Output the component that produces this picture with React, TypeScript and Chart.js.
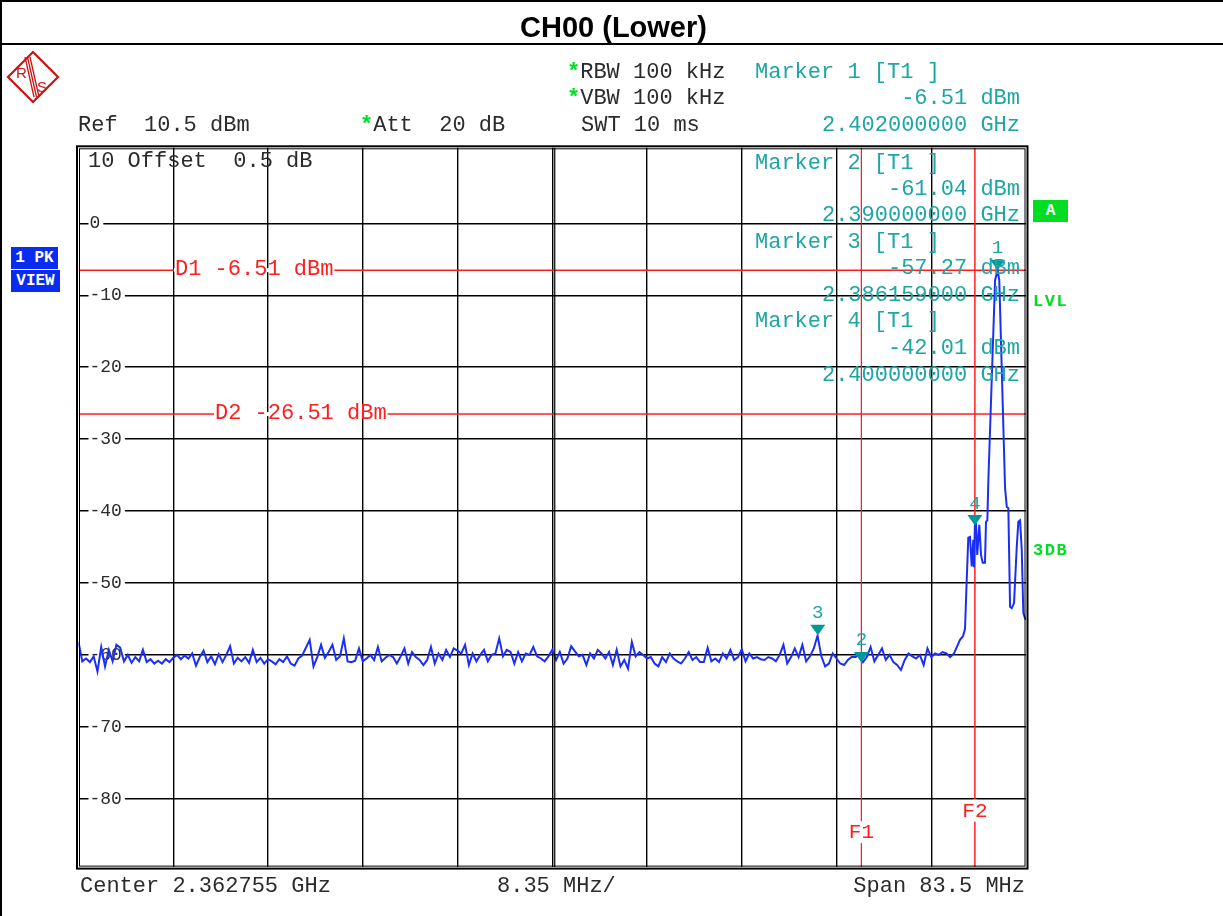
import React, { useEffect, useRef } from "react";
import { Chart, registerables } from "chart.js";

Chart.register(...registerables);

// ---------------- data ----------------
const START_MHZ = 2321.005;
const STOP_MHZ = 2404.505;
const CENTER_MHZ = 2362.755;
const NOISE_STEP_MHZ = 0.334;
const REF_LEVEL_DBM = 10.5;
const BOTTOM_LEVEL_DBM = -89.5;

// trace 1 (peak), noise floor part, one value every NOISE_STEP_MHZ from START_MHZ
const noiseLevels = [
  -58.2, -60.9, -60.5, -61.0, -60.2, -62.3, -58.9, -61.6, -59.3, -60.9,
  -58.6, -59.0, -60.9, -60.0, -61.1, -60.3, -60.9, -59.3, -61.0, -60.6,
  -61.2, -60.8, -61.2, -60.6, -61.0, -60.4, -60.0, -60.6, -60.1, -60.5,
  -59.8, -61.5, -60.3, -59.4, -61.0, -60.2, -61.3, -59.9, -61.0, -60.0,
  -58.8, -61.2, -60.4, -60.9, -60.3, -61.1, -59.3, -61.0, -60.4, -61.2,
  -60.6, -60.9, -61.3, -60.6, -61.0, -60.2, -61.2, -61.5, -60.5, -60.1,
  -59.0, -57.9, -61.6, -60.3, -58.6, -60.4, -59.6, -58.6, -60.7, -60.2,
  -57.7, -60.9, -61.0, -60.8, -59.1, -60.9, -60.5, -60.0, -60.7, -58.9,
  -60.9, -60.4, -60.0, -60.3, -61.2, -60.2, -59.1, -61.2, -59.6, -60.3,
  -60.7, -61.4, -60.7, -58.9, -61.2, -59.8, -60.7, -59.3, -60.3, -59.1,
  -59.4, -59.8, -58.6, -61.4, -59.8, -60.9, -60.0, -59.3, -60.9, -60.0,
  -59.8, -57.7, -60.2, -59.3, -59.6, -61.2, -59.6, -60.9, -59.8, -60.0,
  -58.9, -60.2, -60.5, -60.9, -60.2, -59.3, -60.7, -59.6, -61.2, -60.5,
  -58.8, -59.5, -60.2, -60.0, -61.4, -59.8, -60.5, -59.3, -59.8, -60.5,
  -59.6, -61.4, -59.3, -61.6, -60.7, -61.9, -58.2, -60.2, -59.6, -60.0,
  -60.5, -60.3, -61.2, -61.6, -60.3, -61.0, -59.8, -60.5, -60.9, -61.2,
  -60.5, -59.6, -60.7, -60.3, -61.0, -61.0, -59.0, -60.9, -60.5, -61.0,
  -59.8, -60.5, -59.3, -60.7, -60.3, -59.2, -60.9, -59.8, -60.5, -60.3,
  -60.6, -60.7, -60.3, -60.5, -60.9, -60.0, -58.6, -61.2, -60.3, -59.1,
  -60.3, -58.6, -60.9, -60.2, -59.1, -57.3, -60.2, -61.6, -61.2, -59.8,
  -60.5, -61.2, -61.4, -60.7, -60.3, -60.3, -60.0, -61.0, -60.3, -58.9,
  -60.9, -60.0, -59.1, -60.7, -60.0, -61.0, -61.4, -62.1, -60.7, -59.8,
  -60.2, -60.5, -60.0, -61.4, -59.1, -60.3, -59.8, -60.0, -59.6, -59.8,
  -60.3, -59.8, -58.6,
];

// trace 1, carrier part (MHz / dBm)
const carrierFreqsMHz = [
  2398.69, 2398.95, 2399.13, 2399.28, 2399.42, 2399.57, 2399.72, 2399.86, 2399.92, 2400.0,
  2400.1, 2400.21, 2400.39, 2400.54, 2400.69, 2400.89, 2400.98, 2401.1, 2401.18, 2401.78,
  2402.0, 2402.15, 2402.66, 2402.81, 2402.95, 2403.1, 2403.25, 2403.45, 2403.69, 2403.83,
  2403.98, 2404.13, 2404.27, 2404.42, 2404.505,
];
const carrierLevels = [
  -57.9, -57.4, -56.4, -49.6, -43.7, -43.6, -47.7, -44.0, -47.8, -42.0,
  -41.6, -46.1, -41.9, -46.1, -47.2, -47.2, -41.5, -41.3, -36.1, -7.9,
  -6.51, -7.9, -36.8, -39.4, -39.6, -53.3, -53.5, -52.8, -45.0, -41.5,
  -41.3, -45.4, -54.2, -54.9, -55.1,
];

const xGridMHz = [2329.355, 2337.705, 2346.055, 2354.405, 2362.755, 2371.105, 2379.455, 2387.805, 2396.155];
const yTickLevels = [0, -10, -20, -30, -40, -50, -60, -70, -80];

const displayLineNames = ["D1 -6.51 dBm", "D2 -26.51 dBm"];
const displayLineLevels = [-6.51, -26.51];

const freqLineNames = ["F1", "F2"];
const freqLineMHz = [2390.0, 2400.0];

const markerNames = ["1", "2", "3", "4"];
const markerFreqsMHz = [2402.0, 2390.0, 2386.159, 2400.0];
const markerLevels = [-6.51, -61.04, -57.27, -42.01];

const markerReadouts = [
  ["Marker 2 [T1 ]", "-61.04 dBm", "2.390000000 GHz"],
  ["Marker 3 [T1 ]", "-57.27 dBm", "2.386159000 GHz"],
  ["Marker 4 [T1 ]", "-42.01 dBm", "2.400000000 GHz"],
];

// ---------------- styles ----------------
const MONO = '"Liberation Mono", "DejaVu Sans Mono", monospace';
const SANS = '"Liberation Sans", Arial, sans-serif';
const TEXT = "#2b2b2b";
const TEAL = "#1ea5a5";
const MARK = "#009999";
const RED = "#ff1e1e";
const GREEN = "#00dd22";
const BLUE = "#0a2cf0";
const TRACE = "#1b2ef6";
const LOGO = "#c81414";

const D_LABEL_OFFSET = [96.5, 136.5];
const F_LABEL_RISE = [35, 56.5];

const overlayPlugin = {
  id: "rsOverlay",
  afterDatasetsDraw(chart: any) {
    const { ctx, chartArea: a, scales } = chart;
    const x = scales.x;
    const y = scales.y;
    ctx.save();
    // double frame
    ctx.strokeStyle = "#000";
    ctx.lineWidth = 2;
    ctx.strokeRect(a.left - 1.5, a.top - 1.5, a.right - a.left + 3, a.bottom - a.top + 3);
    ctx.lineWidth = 1;
    ctx.strokeRect(a.left + 1, a.top + 1, a.right - a.left - 2, a.bottom - a.top - 2);
    // double centre line
    const cx = x.getPixelForValue(CENTER_MHZ);
    ctx.lineWidth = 1.2;
    ctx.beginPath();
    ctx.moveTo(cx + 2.5, a.top);
    ctx.lineTo(cx + 2.5, a.bottom);
    ctx.stroke();

    // display line labels
    ctx.font = `22px ${MONO}`;
    ctx.textBaseline = "alphabetic";
    ctx.textAlign = "left";
    displayLineLevels.forEach((lv, i) => {
      const py = y.getPixelForValue(lv);
      const tx = a.left + D_LABEL_OFFSET[i];
      const w = ctx.measureText(displayLineNames[i]).width;
      ctx.fillStyle = "#fff";
      ctx.fillRect(tx - 1, py - 2, w + 2, 4);
      ctx.fillStyle = RED;
      ctx.fillText(displayLineNames[i], tx, py + 5);
    });

    // frequency line labels
    ctx.font = `21px ${MONO}`;
    ctx.textAlign = "center";
    freqLineMHz.forEach((f, i) => {
      const px = x.getPixelForValue(f);
      const cy = a.bottom - F_LABEL_RISE[i];
      ctx.fillStyle = "#fff";
      ctx.fillRect(px - 2, cy - 11, 4, 22);
      ctx.fillStyle = RED;
      ctx.fillText(freqLineNames[i], px, cy + 6);
    });

    // markers
    ctx.font = `19px ${MONO}`;
    markerFreqsMHz.forEach((f, i) => {
      const px = x.getPixelForValue(f);
      const py = y.getPixelForValue(markerLevels[i]);
      ctx.fillStyle = MARK;
      ctx.beginPath();
      ctx.moveTo(px - 7.5, py - 10.5);
      ctx.lineTo(px + 7.5, py - 10.5);
      ctx.lineTo(px, py);
      ctx.closePath();
      ctx.fill();
      ctx.fillStyle = TEAL;
      ctx.fillText(markerNames[i], px, py - 17);
    });
    ctx.restore();
  },
};

type TxtProps = {
  x?: number;
  right?: number;
  y: number;
  size?: number;
  color?: string;
  bold?: boolean;
  spacing?: number;
  family?: string;
  children: React.ReactNode;
};

function Txt({ x, right, y, size = 22, color = TEXT, bold = false, spacing = 0, family = MONO, children }: TxtProps) {
  return (
    <div
      style={{
        position: "absolute",
        left: x,
        right,
        top: y - size * 0.48,
        fontFamily: family,
        fontSize: size,
        fontWeight: bold ? 700 : 400,
        letterSpacing: spacing,
        lineHeight: `${size}px`,
        whiteSpace: "pre",
        color,
      }}
    >
      {children}
    </div>
  );
}

const Star = () => <span style={{ color: GREEN, fontWeight: 700 }}>*</span>;

export default function App() {
  const canvasRef = useRef<HTMLCanvasElement | null>(null);

  useEffect(() => {
    const canvas = canvasRef.current;
    if (!canvas) return;
    const tracePoints = [
      ...noiseLevels.map((v, i) => ({ x: START_MHZ + i * NOISE_STEP_MHZ, y: v })),
      ...carrierFreqsMHz.map((f, i) => ({ x: f, y: carrierLevels[i] })),
    ];
    const dLines = displayLineLevels.map((lv) => ({
      data: [
        { x: START_MHZ, y: lv },
        { x: STOP_MHZ, y: lv },
      ],
      borderColor: RED,
      borderWidth: 1.5,
      pointRadius: 0,
    }));
    const fLines = freqLineMHz.map((f, i) => ({
      data: [
        { x: f, y: REF_LEVEL_DBM },
        { x: f, y: BOTTOM_LEVEL_DBM },
      ],
      borderColor: RED,
      borderWidth: i === 0 ? 1 : 1.5,
      pointRadius: 0,
    }));

    const chart = new Chart(canvas, {
      type: "line",
      data: {
        datasets: [
          { data: tracePoints, borderColor: TRACE, borderWidth: 2, pointRadius: 0, tension: 0 },
          ...dLines,
          ...fLines,
        ] as any,
      },
      options: {
        animation: false,
        responsive: false,
        maintainAspectRatio: false,
        devicePixelRatio: 1,
        layout: { padding: { left: 78.5, top: 147.8, right: 197, bottom: 48.9 } },
        plugins: { legend: { display: false }, tooltip: { enabled: false } },
        events: [],
        scales: {
          x: {
            type: "linear",
            min: START_MHZ,
            max: STOP_MHZ,
            afterBuildTicks: (s: any) => {
              s.ticks = xGridMHz.map((v) => ({ value: v }));
            },
            ticks: { display: false },
            grid: { color: "#000", lineWidth: 1.4, drawTicks: false, tickLength: 0 },
            border: { display: false },
          },
          y: {
            type: "linear",
            min: BOTTOM_LEVEL_DBM,
            max: REF_LEVEL_DBM,
            afterBuildTicks: (s: any) => {
              s.ticks = yTickLevels.map((v) => ({ value: v }));
            },
            afterFit: (s: any) => {
              s.width = 0;
            },
            ticks: {
              mirror: true,
              padding: 11,
              color: TEXT,
              font: { family: "Liberation Mono", size: 18 },
              showLabelBackdrop: true,
              backdropColor: "#fff",
              backdropPadding: { top: 1, bottom: 1, left: 1, right: 3 },
            } as any,
            grid: { color: "#000", lineWidth: 1.4, drawTicks: false, tickLength: 0 },
            border: { display: false },
          },
        },
      } as any,
      plugins: [overlayPlugin],
    });
    return () => chart.destroy();
  }, []);

  return (
    <div
      style={{
        position: "fixed",
        left: 0,
        top: 0,
        width: 1223,
        height: 916,
        background: "#fff",
        overflow: "hidden",
      }}
    >
      <canvas
        ref={canvasRef}
        width={1223}
        height={916}
        style={{ position: "absolute", left: 0, top: 0, width: 1223, height: 916 }}
      />
      {/* page frame */}
      <div style={{ position: "absolute", left: 0, top: 0, width: 1223, height: 2, background: "#000" }} />
      <div style={{ position: "absolute", left: 0, top: 43, width: 1223, height: 2, background: "#000" }} />
      <div style={{ position: "absolute", left: 0, top: 0, width: 2, height: 916, background: "#000" }} />

      {/* title */}
      <div
        style={{
          position: "absolute",
          left: 2,
          width: 1223,
          top: 13,
          textAlign: "center",
          fontFamily: SANS,
          fontWeight: 700,
          fontSize: 29,
          lineHeight: "29px",
          color: "#000",
        }}
      >
        CH00 (Lower)
      </div>

      {/* R&S logo */}
      <svg style={{ position: "absolute", left: 0, top: 48 }} width={66} height={60} viewBox="0 0 66 60">
        <polygon points="33,4 58,29 33,54 8,29" fill="none" stroke={LOGO} strokeWidth={2.2} />
        <line x1={25} y1={9} x2={34} y2={49} stroke={LOGO} strokeWidth={1.3} />
        <line x1={27.5} y1={9} x2={36.5} y2={49} stroke={LOGO} strokeWidth={1.3} />
        <line x1={30} y1={9} x2={39} y2={49} stroke={LOGO} strokeWidth={1.3} />
        <text x={16} y={30} fill={LOGO} fontFamily={SANS} fontSize={15}>R</text>
        <text x={37} y={44} fill={LOGO} fontFamily={SANS} fontSize={15}>S</text>
      </svg>

      {/* header */}
      <Txt x={567} y={72.5}><Star />RBW 100 kHz</Txt>
      <Txt x={567} y={98.5}><Star />VBW 100 kHz</Txt>
      <Txt x={581} y={125.5}>SWT 10 ms</Txt>
      <Txt x={78} y={125.5}>Ref  10.5 dBm</Txt>
      <Txt x={360} y={125.5}><Star />Att  20 dB</Txt>
      <Txt x={755} y={72.5} color={TEAL}>Marker 1 [T1 ]</Txt>
      <Txt right={203} y={98.5} color={TEAL}>-6.51 dBm</Txt>
      <Txt right={203} y={125.5} color={TEAL}>2.402000000 GHz</Txt>

      {/* inside plot */}
      <Txt x={88} y={162}>10 Offset  0.5 dB</Txt>
      {markerReadouts.map((r, i) => (
        <React.Fragment key={i}>
          <Txt x={755} y={164 + i * 79} color={TEAL}>{r[0]}</Txt>
          <Txt right={203} y={189.5 + i * 79.5} color={TEAL}>{r[1]}</Txt>
          <Txt right={203} y={216 + i * 80} color={TEAL}>{r[2]}</Txt>
        </React.Fragment>
      ))}

      {/* left side boxes */}
      <div
        style={{
          position: "absolute", left: 11, top: 247, width: 47, height: 22, background: BLUE, color: "#fff",
          fontFamily: MONO, fontWeight: 700, fontSize: 16, lineHeight: "22px", textAlign: "center", whiteSpace: "pre",
        }}
      >
        1 PK
      </div>
      <div
        style={{
          position: "absolute", left: 11, top: 270, width: 49, height: 22, background: BLUE, color: "#fff",
          fontFamily: MONO, fontWeight: 700, fontSize: 16, lineHeight: "22px", textAlign: "center",
        }}
      >
        VIEW
      </div>

      {/* right side labels */}
      <div
        style={{
          position: "absolute", left: 1033, top: 200, width: 35, height: 22, background: GREEN, color: "#fff",
          fontFamily: MONO, fontWeight: 700, fontSize: 16, lineHeight: "22px", textAlign: "center",
        }}
      >
        A
      </div>
      <Txt x={1033} y={301} size={17} bold spacing={1.5} color={GREEN}>LVL</Txt>
      <Txt x={1033} y={550} size={17} bold spacing={1.5} color={GREEN}>3DB</Txt>

      {/* footer */}
      <Txt x={80} y={886.7}>Center 2.362755 GHz</Txt>
      <Txt x={497} y={886.7}>8.35 MHz/</Txt>
      <Txt right={198} y={886.7}>Span 83.5 MHz</Txt>
    </div>
  );
}
